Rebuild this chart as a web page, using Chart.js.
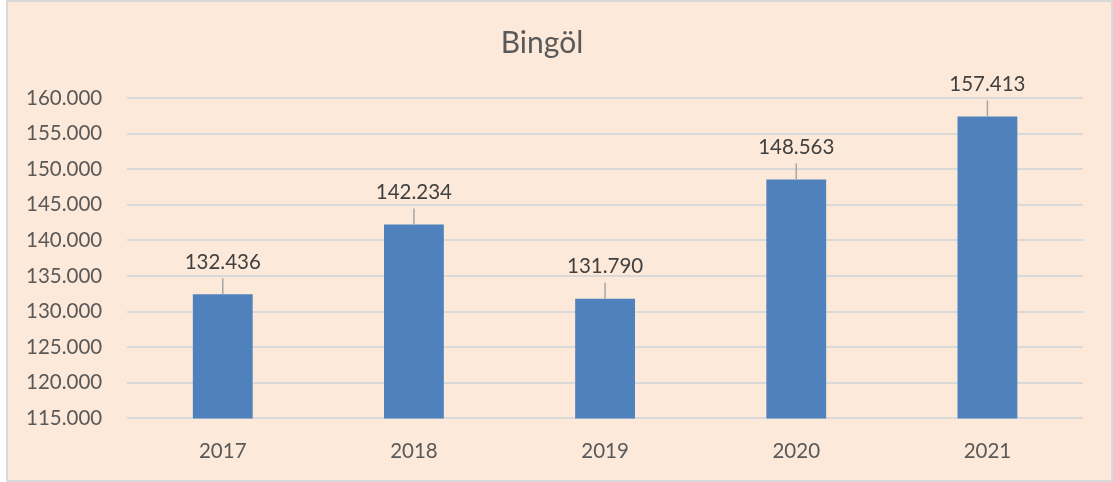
<!DOCTYPE html>
<html>
<head>
<meta charset="utf-8">
<script src="https://cdn.jsdelivr.net/npm/chart.js@4/dist/chart.umd.min.js"></script>
<style>
  html, body { margin: 0; padding: 0; background: #ffffff; }
  #frame {
    position: absolute; left: 6px; top: 0; width: 1103px; height: 478px;
    border: 2px solid #d9d9d9; background: #fde9d9;
  }
  #wrap { position: absolute; left: 0; top: 0; width: 1113px; height: 482px; }
</style>
</head>
<body>
<div id="frame"></div>
<div id="wrap"><canvas id="bingol-chart" width="1113" height="482"></canvas></div>
<script>
const years = ['2017', '2018', '2019', '2020', '2021'];
const population = [132436, 142234, 131790, 148563, 157413];
const yMin = 115000;
const yMax = 160000;
const yStep = 5000;

// format Turkish style: 132.436
function fmt(v) {
    return String(Math.round(v)).replace(/\B(?=(\d{3})+(?!\d))/g, '.');
}

// draw value labels with small leader lines above each bar
const barLabels = {
    id: 'barLabels',
    afterDatasetsDraw(chart) {
        const ctx = chart.ctx;
        const meta = chart.getDatasetMeta(0);
        ctx.save();
        meta.data.forEach((bar, i) => {
            ctx.strokeStyle = '#a6a6a6';
            ctx.lineWidth = 1.5;
            ctx.beginPath();
            ctx.moveTo(bar.x, bar.y);
            ctx.lineTo(bar.x, bar.y - 16);
            ctx.stroke();
            ctx.fillStyle = '#404040';
            ctx.font = '20.5px Lato';
            ctx.textAlign = 'center';
            ctx.textBaseline = 'middle';
            ctx.fillText(fmt(population[i]), bar.x, bar.y - 32);
        });
        ctx.restore();
    }
};

new Chart(document.getElementById('bingol-chart'), {
    type: 'bar',
    data: {
        labels: years,
        datasets: [{
            label: 'Bingöl',
            data: population,
            backgroundColor: '#4f81bd',
            borderWidth: 0,
            barPercentage: 0.313,
            categoryPercentage: 1.0
        }]
    },
    options: {
        responsive: false,
        animation: false,
        layout: { padding: { left: 1, right: 30, top: 25, bottom: 5 } },
        plugins: {
            legend: { display: false },
            tooltip: { enabled: false },
            title: {
                display: true,
                text: 'Bingöl',
                color: '#595959',
                font: { family: 'Lato', size: 30, weight: 'normal' },
                padding: { top: 0, bottom: 37 }
            }
        },
        scales: {
            x: {
                grid: { display: false },
                border: { display: false },
                ticks: {
                    color: '#595959',
                    font: { family: 'Lato', size: 20.5 },
                    padding: 13
                }
            },
            y: {
                min: yMin,
                max: yMax,
                grid: { color: '#d9d9d9', lineWidth: 2, drawTicks: false },
                border: { display: false },
                ticks: {
                    stepSize: yStep,
                    color: '#595959',
                    font: { family: 'Lato', size: 20.5 },
                    padding: 25,
                    callback: v => fmt(v)
                }
            }
        }
    },
    plugins: [barLabels]
});
</script>
</body>
</html>
